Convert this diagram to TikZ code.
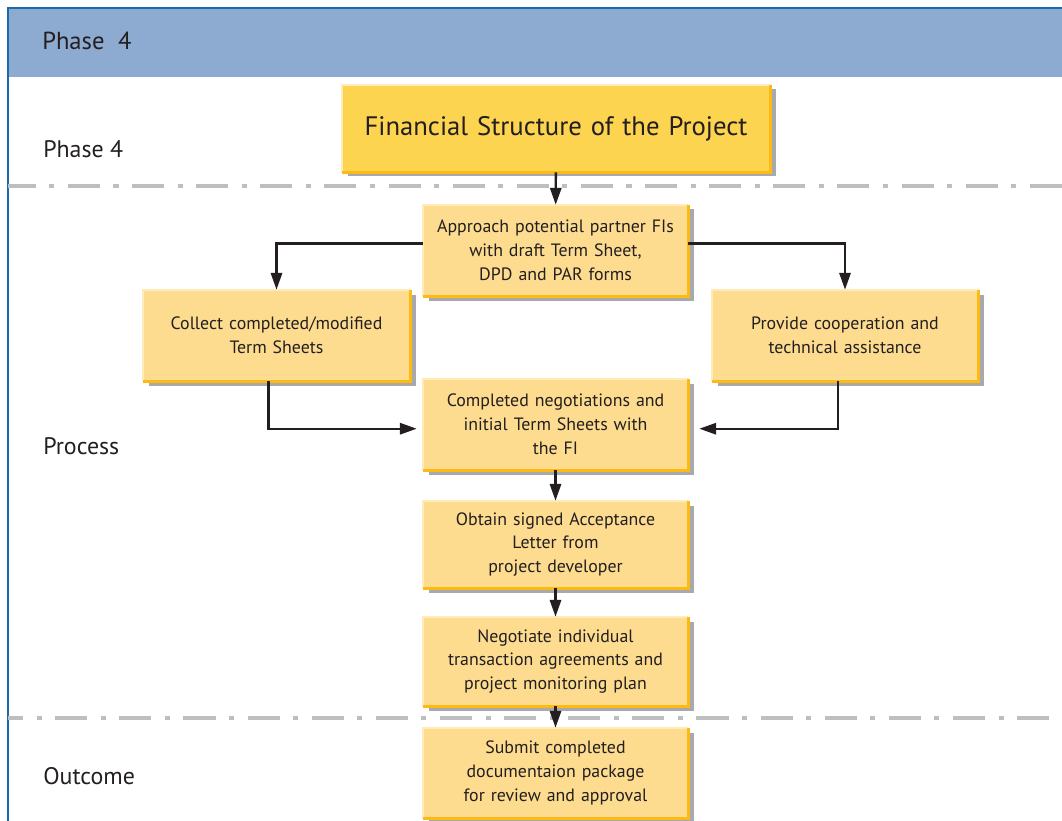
\documentclass[tikz,border=0pt]{standalone}
\usepackage{fontspec}
\setmainfont{PT Sans}
\usetikzlibrary{arrows.meta,shadows}

\newlength\pxu
\setlength\pxu{0.025cm}

\definecolor{headblue}{HTML}{8DAAD0}
\definecolor{frameblue}{HTML}{1B6AAE}
\definecolor{titlefill}{HTML}{FCD44F}
\definecolor{boxfill}{HTML}{FDDC8F}
\definecolor{edgedark}{HTML}{FDBA12}
\definecolor{edgelight}{HTML}{FEEBB8}
\definecolor{boxshadow}{HTML}{A7A9AC}
\definecolor{sepgray}{HTML}{BCBEC0}
\definecolor{textdark}{HTML}{231F20}

\tikzset{
  stepbox/.style={fill=boxfill, minimum width=265\pxu, minimum height=91\pxu,
    inner sep=0pt, text width=255\pxu, align=center, text=textdark,
    font=\fontsize{12.7}{17}\selectfont,
    general shadow={fill=boxshadow, shadow xshift=4.3pt, shadow yshift=-3.2pt}},
  flow/.style={draw=textdark, line width=1.7pt, -{Triangle[length=12pt,width=8pt]}},
  sepline/.style={draw=sepgray, line width=2.8pt,
    dash pattern=on 22.8pt off 9.6pt on 3.6pt off 9.6pt},
  rowlabel/.style={anchor=base west, inner sep=0pt, text=textdark,
    font=\fontsize{17}{20}\selectfont}
}

\begin{document}
\begin{tikzpicture}[x=0.025cm, y=-0.025cm]

    \clip (0,0) rectangle (1062,820);

    % Frame and header band
    \fill[headblue] (8,8) rectangle (1062,77);
    \draw[frameblue, line width=1.6pt] (8,830) -- (8,8) -- (1070,8);
    \node[rowlabel, font=\fontsize{17.5}{20}\selectfont] (headlbl) at (42,50) {Phase\hspace{0.55em}4};

    % Row labels
    \node[rowlabel] (phaselbl) at (43,158) {Phase 4};
    \node[rowlabel] (processlbl) at (43,454) {Process};
    \node[rowlabel] (outcomelbl) at (43,784) {Outcome};

    % Separators
    \draw[sepline, dash phase=3pt] (8,186) -- (1062,186);
    \draw[sepline, dash phase=12pt] (8,718) -- (1050,718);

    % Boxes
    \node[stepbox, fill=titlefill, minimum width=428\pxu, minimum height=87\pxu,
          text width=420\pxu, font=\fontsize{19}{22}\selectfont] (title) at (556,128.5)
          {Financial Structure of the Project};
    \node[stepbox] (approach) at (555.5,250.5)
          {Approach potential partner FIs\\ with draft Term Sheet,\\ DPD and PAR forms};
    \node[stepbox, minimum width=267\pxu] (collect) at (276.5,335.5)
          {Collect completed/modified\\ Term Sheets};
    \node[stepbox, minimum width=266\pxu] (provide) at (845,335.5)
          {Provide cooperation and\\ technical assistance};
    \node[stepbox] (complete) at (555.5,424.5)
          {Completed negotiations and\\ initial Term Sheets with\\ the FI};
    \node[stepbox, minimum height=87\pxu] (obtain) at (555.5,544.5)
          {Obtain signed Acceptance\\ Letter from\\ project developer};
    \node[stepbox, minimum height=89\pxu] (negotiate) at (555.5,661.5)
          {Negotiate individual\\ transaction agreements and\\ project monitoring plan};
    \node[stepbox, minimum height=90\pxu] (submit) at (555.5,773)
          {Submit completed\\ documentaion package\\ for review and approval};

    % Box edges
    \foreach \n in {title,approach,collect,provide,complete,obtain,negotiate,submit} {
        \draw[edgelight, line width=1.6pt] (\n.south west) -- (\n.north west) -- (\n.north east);
        \draw[edgedark, line width=2pt] (\n.north east) -- (\n.south east) -- (\n.south west);
    }

    % Connectors
    \draw[flow] (title) -- (approach);
    \draw[flow] ([yshift=5pt]approach.west) -| (collect.north);
    \draw[flow] ([yshift=5pt]approach.east) -| (provide.north);
    \draw[flow, shorten >=6\pxu] ([xshift=-5.7pt]collect.south) |- ([yshift=-3pt]complete.west);
    \draw[flow, shorten >=11\pxu] ([xshift=-5pt]provide.south) |- ([yshift=-3pt]complete.east);
    \draw[flow] (complete) -- (obtain);
    \draw[flow] (obtain) -- (negotiate);
    \draw[flow] (negotiate) -- (submit);

\end{tikzpicture}
\end{document}
